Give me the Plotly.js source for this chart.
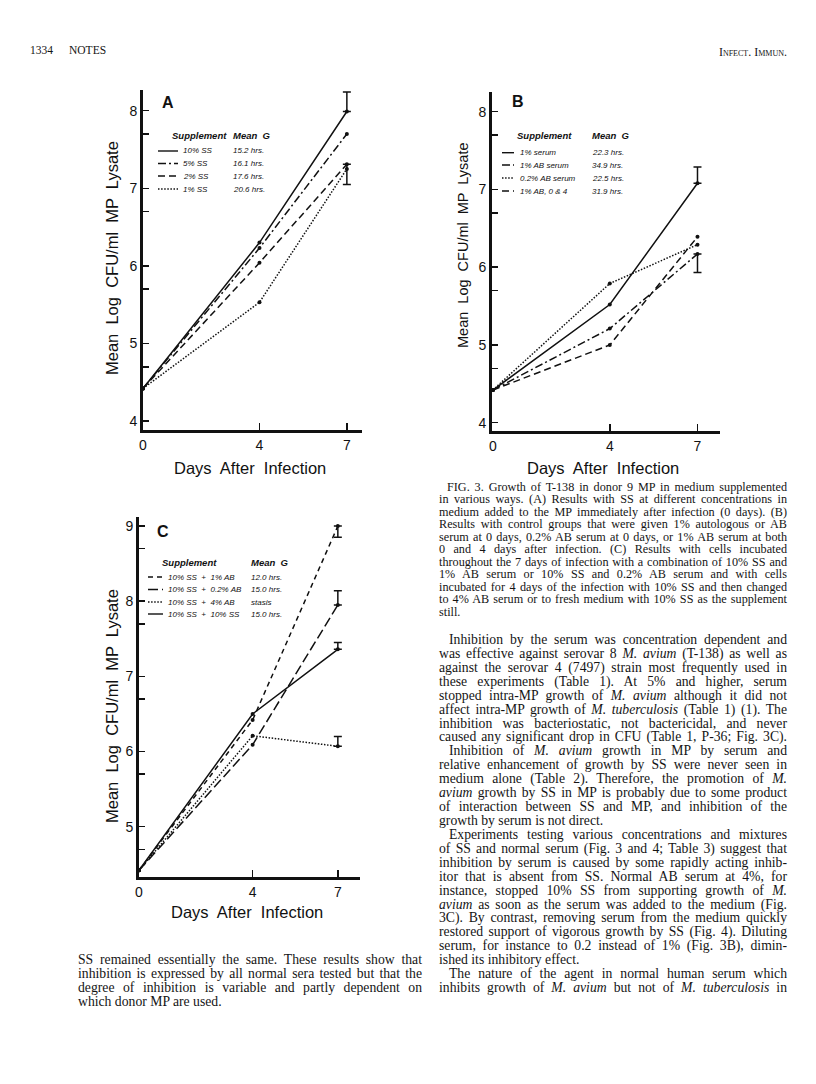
<!DOCTYPE html>
<html><head><meta charset="utf-8">
<script src="https://cdn.plot.ly/plotly-3.0.1.min.js"></script>
<style>
body{margin:0;background:#fff;}
#wrap{position:relative;width:816px;height:1084px;overflow:hidden;background:#fff;}
#plot{position:absolute;left:0;top:0;width:816px;height:1084px;}
.blk{position:absolute;font-family:"Liberation Serif","Times New Roman",serif;color:#141414;}
.ln{white-space:nowrap;display:block;}
.ln span{white-space:nowrap;}
</style></head>
<body><div id="wrap"><div id="plot"></div><div id="prose"></div></div>
<script>
// ---------------- data ----------------
const days = [0, 4, 7];
const dayTickText = ['0', '4', '7'];
const logTicks = [4, 4.699, 5, 5.699, 6, 6.699, 7, 7.699, 8, 8.699, 9];
const logTickText = ['4', '', '5', '', '6', '', '7', '', '8', '', '9'];

// Panel A
const aNames = ['10% SS', '5% SS', '2% SS', '1% SS'];
const aMeanG = ['15.2 hrs.', '16.1 hrs.', '17.6 hrs.', '20.6 hrs.'];
const aSS10 = [4.42, 6.30, 7.99];
const aSS5 = [4.42, 6.23, 7.70];
const aSS2 = [4.42, 6.04, 7.31];
const aSS1 = [4.42, 5.53, 7.25];
const aSS10ErrUp = [NaN, NaN, 0.25];
const aSS2ErrDown = [NaN, NaN, 0.26];

// Panel B
const bNames = ['1% serum', '1% AB serum', '0.2% AB serum', '1% AB, 0 & 4'];
const bMeanG = ['22.3 hrs.', '34.9 hrs.', '22.5 hrs.', '31.9 hrs.'];
const bSerum1 = [4.42, 5.52, 7.08];
const bAB1 = [4.42, 5.21, 6.17];
const bAB02 = [4.42, 5.79, 6.29];
const bAB1Twice = [4.42, 5.00, 6.39];
const bSerum1ErrUp = [NaN, NaN, 0.21];
const bAB1ErrDown = [NaN, NaN, 0.24];

// Panel C
const cNames = ['10% SS  +  1% AB', '10% SS  +  0.2% AB', '10% SS  +  4% AB', '10% SS  +  10% SS'];
const cMeanG = ['12.0 hrs.', '15.0 hrs.', 'stasis', '15.0 hrs.'];
const cAB1 = [4.42, 6.42, 9.00];
const cAB02 = [4.42, 6.09, 7.95];
const cAB4 = [4.42, 6.21, 6.07];
const cSS10 = [4.42, 6.50, 7.36];
const cAB1ErrDown = [NaN, NaN, 0.15];
const cAB02ErrUp = [NaN, NaN, 0.19];
const cAB4ErrUp = [NaN, NaN, 0.13];
const cSS10ErrUp = [NaN, NaN, 0.09];

// ---------------- styling ----------------
const INK = '#111';
const SANS = 'Liberation Sans, Arial, sans-serif';
const W = 816, H = 1084;
const X = p => p / W;
const Y = p => 1 - p / H;

const DASH = {
  solid: 'solid',
  dashdot: '8px,3px,2px,3px',
  dash: '7px,4px',
  dot: '1.5px,1.6px',
  shortdash: '5px,4px',
  longdash: '10px,4px'
};

function err(up, down) {
  return {type: 'data', symmetric: false, array: up || [NaN, NaN, NaN],
          arrayminus: down || [NaN, NaN, NaN], width: 4, thickness: 1.5, color: INK};
}
function tr(ys, name, dash, xa, ya, up, down) {
  const t = {x: days, y: ys, name: name, type: 'scatter', mode: 'lines+markers',
    xaxis: xa, yaxis: ya, cliponaxis: false, showlegend: false,
    line: {color: INK, width: 1.5, dash: dash},
    marker: {color: INK, size: 4}};
  if (up || down) t.error_y = err(up, down);
  return t;
}

const data = [
  tr(aSS10, aNames[0], DASH.solid, 'x', 'y', aSS10ErrUp, null),
  tr(aSS5, aNames[1], DASH.dashdot, 'x', 'y'),
  tr(aSS2, aNames[2], DASH.dash, 'x', 'y', null, aSS2ErrDown),
  tr(aSS1, aNames[3], DASH.dot, 'x', 'y'),

  tr(bSerum1, bNames[0], DASH.solid, 'x2', 'y2', bSerum1ErrUp, null),
  tr(bAB1, bNames[1], DASH.dashdot, 'x2', 'y2', null, bAB1ErrDown),
  tr(bAB02, bNames[2], DASH.dot, 'x2', 'y2'),
  tr(bAB1Twice, bNames[3], DASH.dash, 'x2', 'y2'),

  tr(cAB1, cNames[0], DASH.shortdash, 'x3', 'y3', null, cAB1ErrDown),
  tr(cAB02, cNames[1], DASH.longdash, 'x3', 'y3', cAB02ErrUp, null),
  tr(cAB4, cNames[2], DASH.dot, 'x3', 'y3', cAB4ErrUp, null),
  tr(cSS10, cNames[3], DASH.solid, 'x3', 'y3', cSS10ErrUp, null)
];

function xAx(l, r, t0, t1, anchor) {
  return {domain: [X(l), X(r)], range: [t0, t1], anchor: anchor,
    tickmode: 'array', tickvals: days, ticktext: dayTickText,
    ticks: 'inside', ticklen: 7, tickwidth: 1.5, tickcolor: INK,
    showline: true, linewidth: 3, linecolor: INK, showgrid: false, zeroline: false,
    tickfont: {family: SANS, size: 14, color: INK}, fixedrange: true};
}
function yAx(bot, top, v0, v1, anchor) {
  return {domain: [Y(bot), Y(top)], range: [v0, v1], anchor: anchor,
    tickmode: 'array', tickvals: logTicks, ticktext: logTickText,
    ticks: 'inside', ticklen: 6, tickwidth: 1.5, tickcolor: INK,
    showline: true, linewidth: 3, linecolor: INK, showgrid: false, zeroline: false,
    tickfont: {family: SANS, size: 14, color: INK}, fixedrange: true};
}

const annotations = [];
const shapes = [];
function ann(x, y, text, size, opts) {
  annotations.push(Object.assign({xref: 'paper', yref: 'paper', x: X(x), y: Y(y), text: text,
    showarrow: false, xanchor: 'left', yanchor: 'middle',
    font: {family: SANS, size: size, color: INK}}, opts || {}));
}
function legend(cfg, names, meanG, dashes) {
  ann(cfg.hx, cfg.hy, '<b><i>Supplement</i></b>', 9.5);
  ann(cfg.gx, cfg.hy, '<b><i>Mean  G</i></b>', 9.5);
  names.forEach((n, i) => {
    const yy = cfg.rows[i];
    shapes.push({type: 'line', xref: 'paper', yref: 'paper', x0: X(cfg.l0), x1: X(cfg.l1),
      y0: Y(yy), y1: Y(yy), line: {color: INK, width: 1.4, dash: dashes[i]}});
    ann(cfg.tx, yy, '<i>' + n + '</i>', 8);
    ann(cfg.gx, yy, '<i>' + meanG[i] + '</i>', 8);
  });
}

// Panel labels
ann(168, 103, '<b>A</b>', 16, {xanchor: 'center'});
ann(518, 102, '<b>B</b>', 16, {xanchor: 'center'});
ann(163, 531, '<b>C</b>', 16, {xanchor: 'center'});

// Axis titles
ann(250, 468, 'Days  After  Infection', 16.5, {xanchor: 'center'});
ann(603, 468, 'Days  After  Infection', 16.5, {xanchor: 'center'});
ann(247, 912, 'Days  After  Infection', 16.5, {xanchor: 'center'});
ann(112, 258, 'Mean  Log  CFU/ml  MP  Lysate', 16.5, {xanchor: 'center', textangle: -90});
ann(463, 245, 'Mean  Log  CFU/ml  MP  Lysate', 14.5, {xanchor: 'center', textangle: -90});
ann(112, 706, 'Mean  Log  CFU/ml  MP  Lysate', 16.5, {xanchor: 'center', textangle: -90});

legend({hx: 170, hy: 136, gx: 231, tx: 181, l0: 158, l1: 178, rows: [151, 163.5, 176, 189]},
  aNames, aMeanG, [DASH.solid, DASH.dashdot, DASH.dash, DASH.dot]);
legend({hx: 515, hy: 136, gx: 590, tx: 518, l0: 502, l1: 514, rows: [152.7, 165, 178, 191]},
  bNames, bMeanG, [DASH.solid, DASH.dashdot, DASH.dot, DASH.dash]);
legend({hx: 160, hy: 562, gx: 249, tx: 166, l0: 148, l1: 163, rows: [577, 589.5, 602, 614]},
  cNames, cMeanG, [DASH.shortdash, DASH.longdash, DASH.dot, DASH.solid]);

const layout = {
  width: W, height: H, margin: {l: 0, r: 0, t: 0, b: 0},
  paper_bgcolor: '#fff', plot_bgcolor: 'rgba(0,0,0,0)', showlegend: false,
  xaxis: xAx(143, 362, 0, 7.52, 'y'),
  yaxis: yAx(430, 90, 3.884, 8.267, 'x'),
  xaxis2: xAx(492, 720, -0.03, 7.77, 'y2'),
  yaxis2: yAx(430.7, 92, 3.897, 8.253, 'x2'),
  xaxis3: xAx(139, 360, 0, 7.78, 'y3'),
  yaxis3: yAx(876.7, 517, 4.335, 9.12, 'x3'),
  annotations: annotations, shapes: shapes
};

Plotly.newPlot('plot', data, layout, {staticPlot: true, displayModeBar: false});

// ---------------- page text ----------------
const headerLeft = ['1334', 'NOTES'];
const headerRight = 'Infect. Immun.';
const captionLines = [
  'FIG. 3. Growth of T-138 in donor 9 MP in medium supplemented',
  'in various ways. (A) Results with SS at different concentrations in',
  'medium added to the MP immediately after infection (0 days). (B)',
  'Results with control groups that were given 1% autologous or AB',
  'serum at 0 days, 0.2% AB serum at 0 days, or 1% AB serum at both',
  '0 and 4 days after infection. (C) Results with cells incubated',
  'throughout the 7 days of infection with a combination of 10% SS and',
  '1% AB serum or 10% SS and 0.2% AB serum and with cells',
  'incubated for 4 days of the infection with 10% SS and then changed',
  'to 4% AB serum or to fresh medium with 10% SS as the supplement',
  'still.'
];
const captionLast = [10];
const bodyLines = [
  'Inhibition by the serum was concentration dependent and',
  'was effective against serovar 8 <i>M. avium</i> (T-138) as well as',
  'against the serovar 4 (7497) strain most frequently used in',
  'these experiments (Table 1). At 5% and higher, serum',
  'stopped intra-MP growth of <i>M. avium</i> although it did not',
  'affect intra-MP growth of <i>M. tuberculosis</i> (Table 1) (1). The',
  'inhibition was bacteriostatic, not bactericidal, and never',
  'caused any significant drop in CFU (Table 1, P-36; Fig. 3C).',
  'Inhibition of <i>M. avium</i> growth in MP by serum and',
  'relative enhancement of growth by SS were never seen in',
  'medium alone (Table 2). Therefore, the promotion of <i>M.</i>',
  '<i>avium</i> growth by SS in MP is probably due to some product',
  'of interaction between SS and MP, and inhibition of the',
  'growth by serum is not direct.',
  'Experiments testing various concentrations and mixtures',
  'of SS and normal serum (Fig. 3 and 4; Table 3) suggest that',
  'inhibition by serum is caused by some rapidly acting inhib-',
  'itor that is absent from SS. Normal AB serum at 4%, for',
  'instance, stopped 10% SS from supporting growth of <i>M.</i>',
  '<i>avium</i> as soon as the serum was added to the medium (Fig.',
  '3C). By contrast, removing serum from the medium quickly',
  'restored support of vigorous growth by SS (Fig. 4). Diluting',
  'serum, for instance to 0.2 instead of 1% (Fig. 3B), dimin-',
  'ished its inhibitory effect.',
  'The nature of the agent in normal human serum which',
  'inhibits growth of <i>M. avium</i> but not of <i>M. tuberculosis</i> in'
];
const bodyIndent = [0, 8, 14, 24];
const bodyLast = [13, 23];
const leftLines = [
  'SS remained essentially the same. These results show that',
  'inhibition is expressed by all normal sera tested but that the',
  'degree of inhibition is variable and partly dependent on',
  'which donor MP are used.'
];
const leftLast = [3];

const prose = document.getElementById('prose');
function block(lines, left, width, top, size, lh, indentIdx, lastIdx, indent) {
  const d = document.createElement('div');
  d.className = 'blk';
  d.style.left = left + 'px'; d.style.top = top + 'px'; d.style.width = width + 'px';
  d.style.fontSize = size + 'px'; d.style.lineHeight = lh + 'px';
  lines.forEach((t, i) => {
    const ln = document.createElement('div');
    ln.className = 'ln';
    const ind = indentIdx.includes(i) ? indent : 0;
    ln.style.paddingLeft = ind + 'px';
    const sp = document.createElement('span');
    sp.innerHTML = t;
    ln.appendChild(sp);
    d.appendChild(ln);
    ln._ind = ind; ln._last = lastIdx.includes(i); ln._sp = sp;
  });
  prose.appendChild(d);
  Array.from(d.children).forEach(ln => {
    if (ln._last) return;
    const sp = ln._sp;
    const nat = sp.getBoundingClientRect().width;
    const n = (sp.textContent.match(/ /g) || []).length;
    if (n > 0) sp.style.wordSpacing = ((width - ln._ind - nat) / n) + 'px';
  });
}
block(captionLines, 439, 348, 480.5, 12.2, 12.5, [0], captionLast, 8);
block(bodyLines, 439, 348, 633, 13.7, 13.92, bodyIndent, bodyLast, 10);
block(leftLines, 78, 344, 953, 13.7, 14, [], leftLast, 0);

const hd = document.createElement('div');
hd.className = 'blk';
hd.style.left = '30px'; hd.style.top = '44px'; hd.style.fontSize = '11.5px';
hd.innerHTML = headerLeft[0] + '<span style="display:inline-block;width:16px"></span>' + headerLeft[1];
prose.appendChild(hd);
const hr = document.createElement('div');
hr.className = 'blk';
hr.style.right = '29px'; hr.style.top = '45px'; hr.style.fontSize = '12px';
hr.style.fontVariant = 'small-caps';
hr.textContent = headerRight;
prose.appendChild(hr);
</script>
</body></html>
